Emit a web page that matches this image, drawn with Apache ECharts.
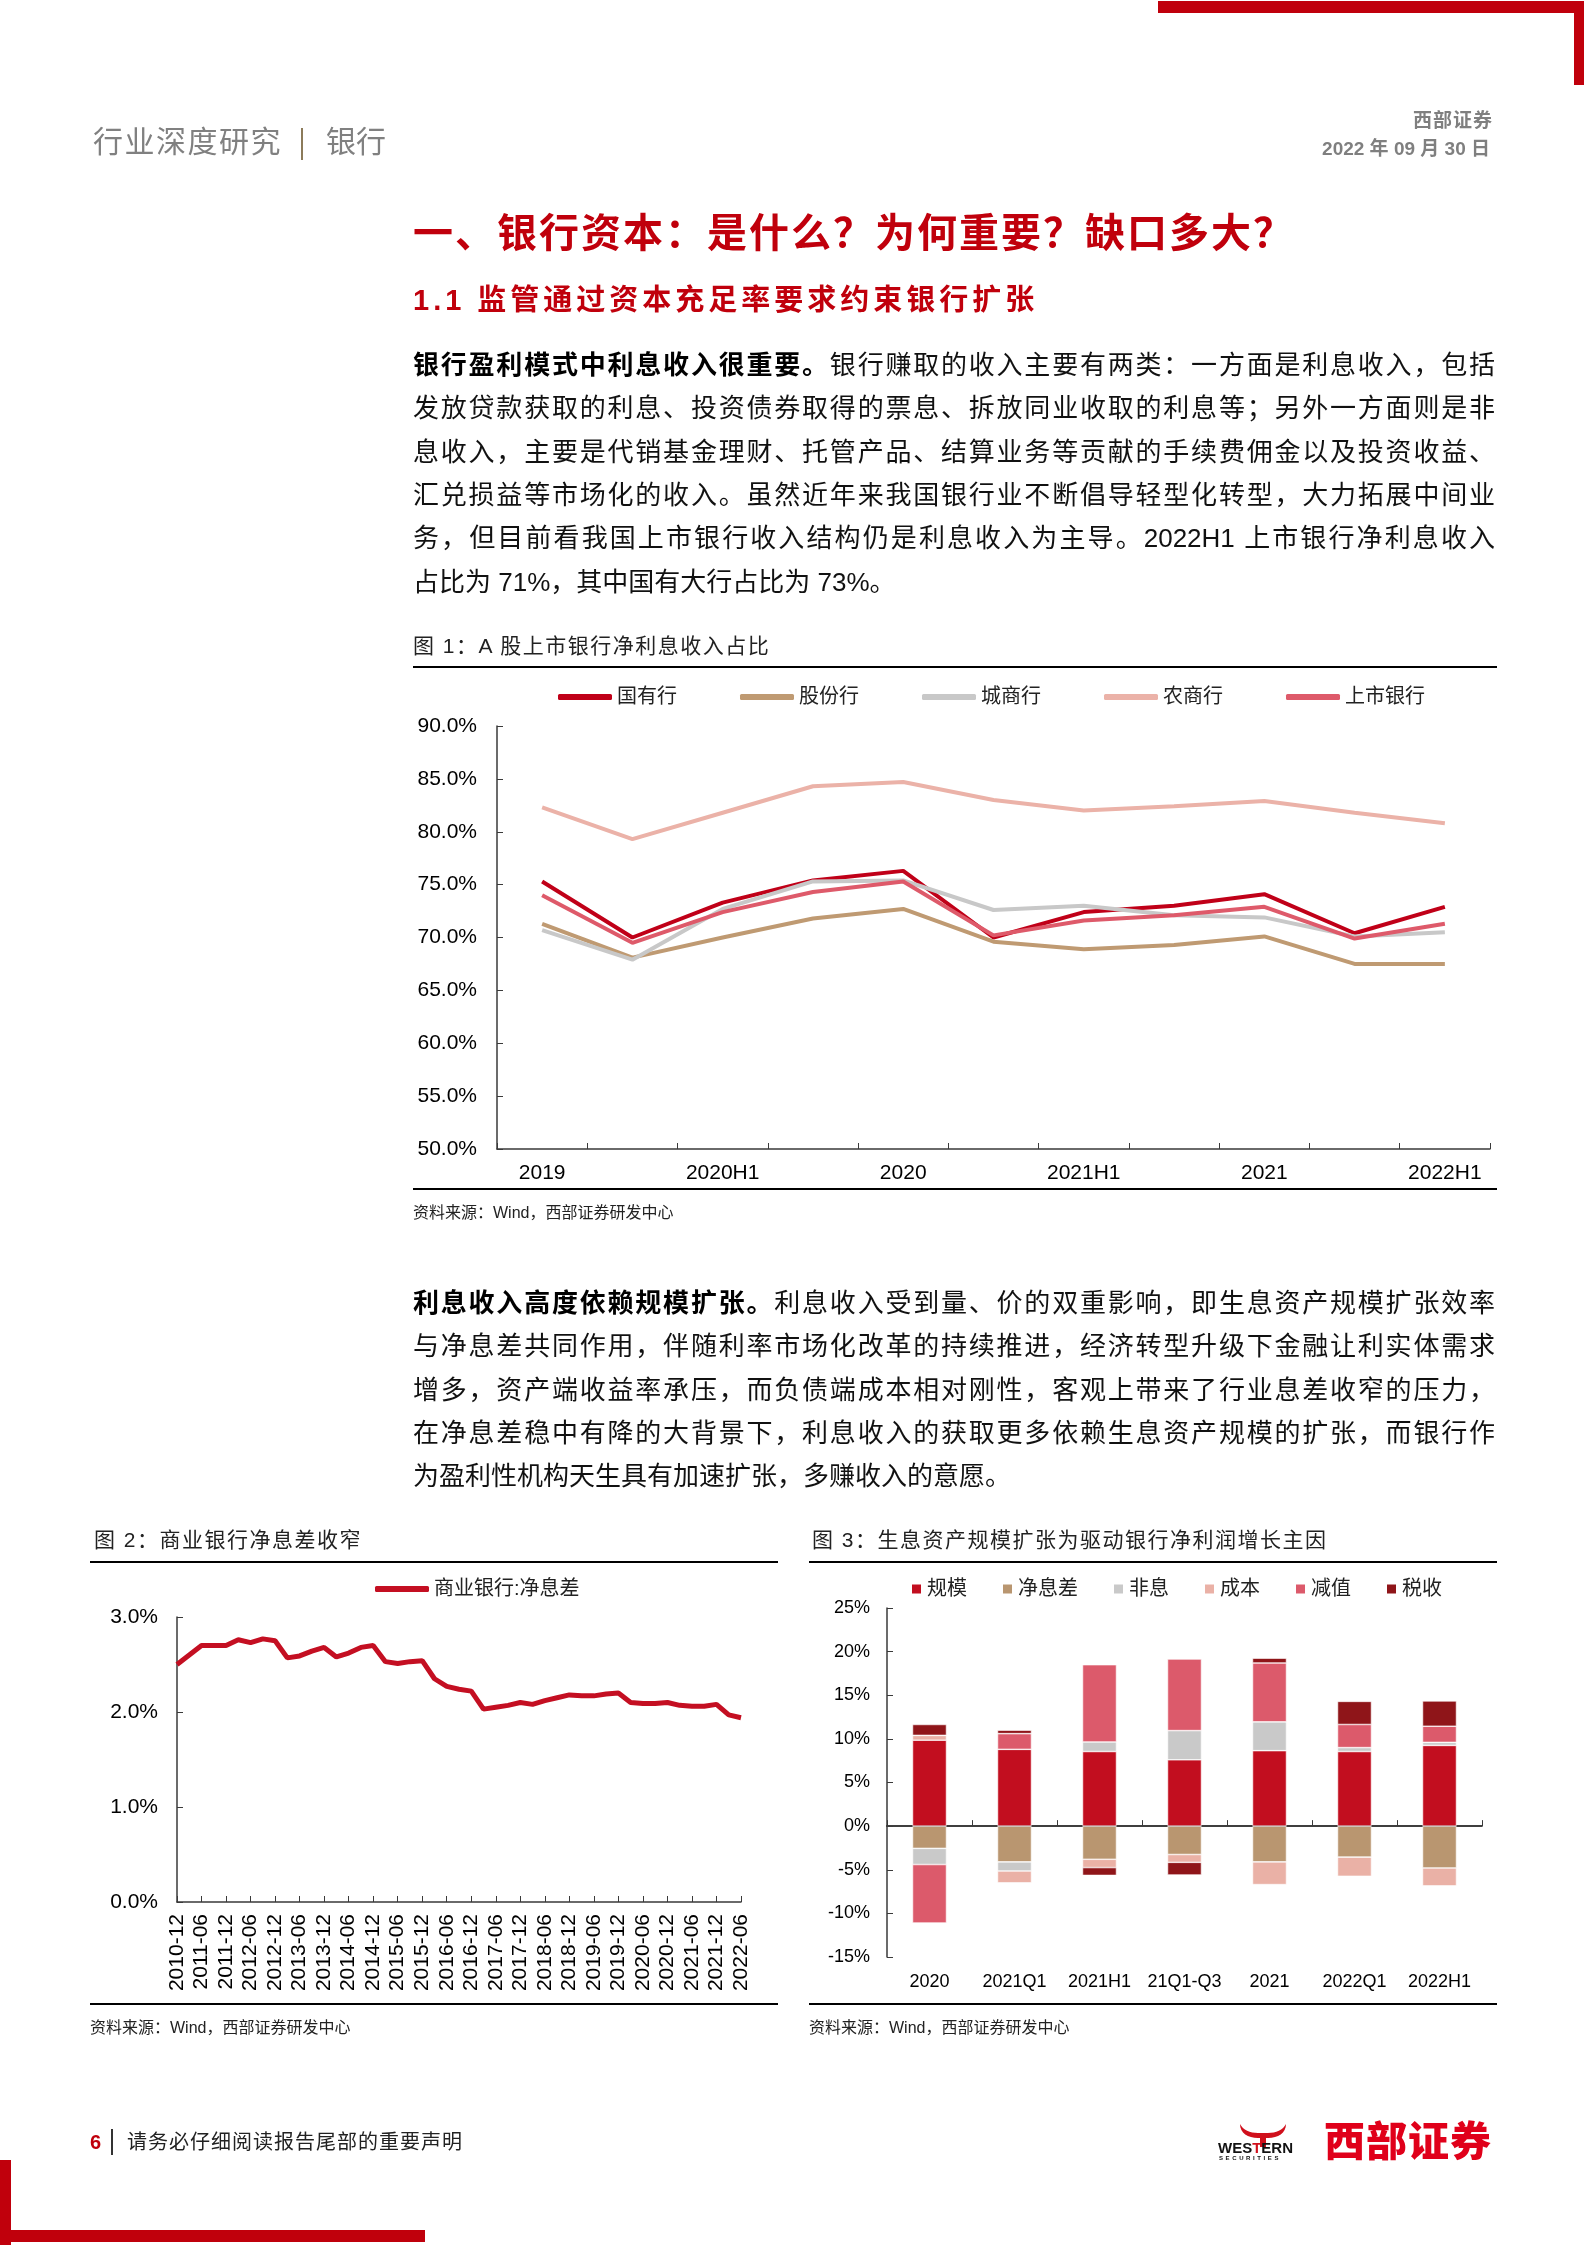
<!DOCTYPE html>
<html lang="zh-CN"><head><meta charset="utf-8">
<script src="https://cdn.jsdelivr.net/npm/echarts@6/dist/echarts.min.js"></script>
<style>
html,body{margin:0;padding:0;background:#fff;}
#page{position:relative;width:1587px;height:2245px;overflow:hidden;background:#fff;font-family:'Liberation Sans','Noto Sans CJK SC',sans-serif;}
#chart{position:absolute;left:0;top:0;width:1587px;height:2245px;}
.t{position:absolute;white-space:nowrap;}
.ln{position:absolute;left:413px;width:1082px;height:44px;line-height:44px;font-size:26px;color:#111;text-align:justify;text-align-last:justify;overflow:visible;}
.ln.last{text-align:left;text-align-last:left;}
.ln b{font-weight:bold;color:#000;}
.rule{position:absolute;height:2px;background:#000;}
.ftitle{position:absolute;font-size:21px;letter-spacing:1.5px;color:#222;white-space:nowrap;line-height:26px;}
.src{position:absolute;font-size:16px;color:#222;white-space:nowrap;line-height:20px;}
.red{background:#C0000C;position:absolute;}
</style></head>
<body><div id="page">
<div id="chart"></div>

<!-- decorations -->
<div class="red" style="left:1158px;top:1px;width:426px;height:12px;"></div>
<div class="red" style="left:1574px;top:1px;width:10px;height:84px;"></div>
<div class="red" style="left:0px;top:2160px;width:11px;height:85px;"></div>
<div class="red" style="left:0px;top:2230px;width:425px;height:12px;"></div>

<!-- header -->
<div class="t" style="left:93px;top:124px;font-size:30px;letter-spacing:1.5px;color:#808080;line-height:36px;">行业深度研究</div>
<div style="position:absolute;left:301px;top:128px;width:2px;height:32px;background:#8c7b5a;"></div>
<div class="t" style="left:326px;top:124px;font-size:30px;letter-spacing:0px;color:#808080;line-height:36px;">银行</div>
<div class="t" style="right:94px;top:109px;font-size:19px;font-weight:bold;color:#7f7f7f;letter-spacing:1px;line-height:24px;">西部证券</div>
<div class="t" style="right:97px;top:137px;font-size:19px;font-weight:bold;color:#7f7f7f;line-height:24px;">2022 年 09 月 30 日</div>

<div class="t" style="left:413px;top:209px;font-size:40px;font-weight:bold;color:#C0000C;letter-spacing:2px;line-height:48px;">一、银行资本：是什么？为何重要？缺口多大？</div>
<div class="t" style="left:413px;top:282px;font-size:29px;font-weight:bold;color:#C0000C;letter-spacing:4px;line-height:36px;">1.1 监管通过资本充足率要求约束银行扩张</div>

<!-- paragraph 1 -->
<div class="ln" style="top:343px;"><b>银行盈利模式中利息收入很重要。</b>银行赚取的收入主要有两类：一方面是利息收入，包括</div>
<div class="ln" style="top:386px;">发放贷款获取的利息、投资债券取得的票息、拆放同业收取的利息等；另外一方面则是非</div>
<div class="ln" style="top:430px;">息收入，主要是代销基金理财、托管产品、结算业务等贡献的手续费佣金以及投资收益、</div>
<div class="ln" style="top:473px;">汇兑损益等市场化的收入。虽然近年来我国银行业不断倡导轻型化转型，大力拓展中间业</div>
<div class="ln" style="top:516px;">务，但目前看我国上市银行收入结构仍是利息收入为主导。2022H1 上市银行净利息收入</div>
<div class="ln last" style="top:560px;">占比为 71%，其中国有大行占比为 73%。</div>

<!-- figure 1 frame -->
<div class="ftitle" style="left:413px;top:633px;">图 1：A 股上市银行净利息收入占比</div>
<div class="rule" style="left:413px;top:666px;width:1084px;"></div>
<div class="rule" style="left:413px;top:1188px;width:1084px;"></div>
<div class="src" style="left:413px;top:1203px;">资料来源：Wind，西部证券研发中心</div>

<!-- paragraph 2 -->
<div class="ln" style="top:1281px;"><b>利息收入高度依赖规模扩张。</b>利息收入受到量、价的双重影响，即生息资产规模扩张效率</div>
<div class="ln" style="top:1324px;">与净息差共同作用，伴随利率市场化改革的持续推进，经济转型升级下金融让利实体需求</div>
<div class="ln" style="top:1368px;">增多，资产端收益率承压，而负债端成本相对刚性，客观上带来了行业息差收窄的压力，</div>
<div class="ln" style="top:1411px;">在净息差稳中有降的大背景下，利息收入的获取更多依赖生息资产规模的扩张，而银行作</div>
<div class="ln last" style="top:1454px;">为盈利性机构天生具有加速扩张，多赚收入的意愿。</div>

<!-- figure 2 / 3 frames -->
<div class="ftitle" style="left:94px;top:1527px;">图 2：商业银行净息差收窄</div>
<div class="rule" style="left:90px;top:1561px;width:688px;"></div>
<div class="rule" style="left:90px;top:2003px;width:688px;"></div>
<div class="src" style="left:90px;top:2018px;">资料来源：Wind，西部证券研发中心</div>

<div class="ftitle" style="left:812px;top:1527px;">图 3：生息资产规模扩张为驱动银行净利润增长主因</div>
<div class="rule" style="left:809px;top:1561px;width:688px;"></div>
<div class="rule" style="left:809px;top:2003px;width:688px;"></div>
<div class="src" style="left:809px;top:2018px;">资料来源：Wind，西部证券研发中心</div>

<!-- footer -->
<div class="t" style="left:90px;top:2130px;font-size:20px;font-weight:bold;color:#C0000C;line-height:24px;">6</div>
<div style="position:absolute;left:111px;top:2129px;width:2px;height:26px;background:#333;"></div>
<div class="t" style="left:127px;top:2130px;font-size:20px;letter-spacing:1px;color:#222;line-height:24px;">请务必仔细阅读报告尾部的重要声明</div>
<svg style="position:absolute;left:1238px;top:2123px;" width="50" height="24" viewBox="0 0 50 24">
  <path d="M2 1 C2 10 10 15 20 15 L30 15 C40 15 48 10 48 1 C45 7 38 10 30 10 L20 10 C12 10 5 7 2 1 Z" fill="#D0101C"/>
  <rect x="22" y="13" width="6" height="11" fill="#D0101C"/>
</svg>
<div class="t" style="left:1218px;top:2139px;font-size:15px;font-weight:bold;color:#111;line-height:18px;letter-spacing:0px;">WES<span style="color:#D0101C">T</span>ERN</div>
<div class="t" style="left:1219px;top:2154px;font-size:6px;font-weight:bold;color:#111;line-height:8px;letter-spacing:2.6px;">SECURITIES</div>
<div class="t" style="left:1324px;top:2117px;font-size:41px;font-weight:900;color:#E0001A;line-height:50px;letter-spacing:1px;">西部证券</div>
</div>

<script>
// ---------- Figure 1 data ----------
const fig1Categories = ['2019','2020Q1','2020H1','2020Q3','2020','2021Q1','2021H1','2021Q3','2021','2022Q1','2022H1'];
const stateOwned = [75.3, 70.0, 73.3, 75.4, 76.3, 70.0, 72.4, 73.0, 74.1, 70.4, 72.9];
const jointStock = [71.3, 68.1, 70.0, 71.8, 72.7, 69.6, 68.9, 69.3, 70.1, 67.5, 67.5];
const cityComm   = [70.7, 67.9, 72.7, 75.3, 75.4, 72.6, 73.0, 72.1, 71.9, 70.1, 70.5];
const ruralComm  = [82.3, 79.3, 81.8, 84.3, 84.7, 83.0, 82.0, 82.4, 82.9, 81.8, 80.8];
const listedBank = [74.0, 69.5, 72.4, 74.3, 75.3, 70.2, 71.6, 72.1, 72.9, 69.9, 71.3];
const fig1Names  = ['国有行','股份行','城商行','农商行','上市银行'];

// ---------- Figure 2 data ----------
const nimCategories = ['2010-12',
 '2011-03','2011-06','2011-09','2011-12','2012-03','2012-06','2012-09','2012-12',
 '2013-03','2013-06','2013-09','2013-12','2014-03','2014-06','2014-09','2014-12',
 '2015-03','2015-06','2015-09','2015-12','2016-03','2016-06','2016-09','2016-12',
 '2017-03','2017-06','2017-09','2017-12','2018-03','2018-06','2018-09','2018-12',
 '2019-03','2019-06','2019-09','2019-12','2020-03','2020-06','2020-09','2020-12',
 '2021-03','2021-06','2021-09','2021-12','2022-03','2022-06'];
const nimValues = [2.50,
 2.60, 2.70, 2.70, 2.70, 2.76, 2.73, 2.77, 2.75,
 2.57, 2.59, 2.64, 2.68, 2.58, 2.62, 2.68, 2.70,
 2.53, 2.51, 2.53, 2.54, 2.35, 2.27, 2.24, 2.22,
 2.03, 2.05, 2.07, 2.10, 2.08, 2.12, 2.15, 2.18,
 2.17, 2.17, 2.19, 2.20, 2.10, 2.09, 2.09, 2.10,
 2.07, 2.06, 2.06, 2.08, 1.97, 1.94];

// ---------- Figure 3 data ----------
const fig3Categories = ['2020','2021Q1','2021H1','21Q1-Q3','2021','2022Q1','2022H1'];
const scaleVals   = [9.85, 8.8, 8.55, 7.6, 8.65, 8.55, 9.25];
const nimVals     = [-2.55, -4.1, -3.8, -3.25, -4.1, -3.55, -4.8];
const nonIntVals  = [-1.85, -1.05, 1.1, 3.35, 3.3, 0.45, 0.35];
const costVals    = [0.55, -1.35, -0.95, -0.9, -2.6, -2.2, -2.05];
const impairVals  = [-6.7, 1.8, 8.85, 8.2, 6.75, 2.65, 1.85];
const taxVals     = [1.25, 0.4, -0.9, -1.45, 0.55, 2.65, 2.9];
const fig3Names   = ['规模','净息差','非息','成本','减值','税收'];

const FONT = "'Liberation Sans', Arial, 'Noto Sans CJK SC', sans-serif";
const fig1Colors = ['#C00018','#BF9A72','#C8C8C8','#EBB2A8','#DE5A6A'];
const fig3Colors = ['#C20E1F','#B99670','#C9C9C9','#EAB1A6','#DC5A6B','#8F1519'];
const axisColor = '#3a3a3a';

const chart = echarts.init(document.getElementById('chart'), null, {renderer:'canvas', width:1587, height:2245});

const fig1Series = [stateOwned, jointStock, cityComm, ruralComm, listedBank].map((d, i) => ({
  name: fig1Names[i], type: 'line', data: d, xAxisIndex: 0, yAxisIndex: 0,
  symbol: 'none', lineStyle: {width: 4, color: fig1Colors[i]}, itemStyle: {color: fig1Colors[i]},
  z: 2 + i
}));

const fig3Series = [scaleVals, nimVals, nonIntVals, costVals, impairVals, taxVals].map((d, i) => ({
  name: fig3Names[i], type: 'bar', stack: 'f3', data: d, xAxisIndex: 2, yAxisIndex: 2,
  barWidth: 34, itemStyle: {color: fig3Colors[i], borderColor: '#fff', borderWidth: 0.6}
}));

const option = {
  animation: false,
  backgroundColor: 'transparent',
  textStyle: {fontFamily: FONT},
  grid: [
    {left: 497, top: 726, width: 993, height: 423, containLabel: false},
    {left: 177, top: 1617, width: 564, height: 285, containLabel: false},
    {left: 887, top: 1608, width: 595, height: 349, containLabel: false}
  ],
  legend: [
    {data: fig1Names, left: 553, top: 682, icon: 'roundRect', itemWidth: 54, itemHeight: 6, itemGap: 63,
     textStyle: {fontSize: 20, color: '#222', fontFamily: FONT}},
    {data: ['商业银行:净息差'], left: 370, top: 1574, icon: 'roundRect', itemWidth: 54, itemHeight: 6,
     textStyle: {fontSize: 20, color: '#222', fontFamily: FONT}},
    {data: fig3Names, left: 905, top: 1574, icon: 'rect', itemWidth: 11, itemHeight: 11, itemGap: 34,
     textStyle: {fontSize: 20, color: '#222', fontFamily: FONT}}
  ],
  xAxis: [
    {type: 'category', gridIndex: 0, data: fig1Categories, boundaryGap: true,
     axisLine: {show: true, lineStyle: {color: axisColor, width: 1.5}},
     axisTick: {show: true, inside: true, length: 6, interval: 0, lineStyle: {color: axisColor}},
     axisLabel: {interval: 1, fontSize: 21, color: '#000', margin: 14, fontFamily: FONT},
     splitLine: {show: false}},
    {type: 'category', gridIndex: 1, data: nimCategories, boundaryGap: false,
     axisLine: {show: true, lineStyle: {color: axisColor, width: 1.5}},
     axisTick: {show: true, inside: true, length: 6, interval: 1, lineStyle: {color: axisColor}},
     axisLabel: {interval: 1, rotate: 90, fontSize: 21, color: '#000', margin: 12, fontFamily: FONT},
     splitLine: {show: false}},
    {type: 'category', gridIndex: 2, data: fig3Categories, boundaryGap: true,
     axisLine: {show: true, onZero: true, lineStyle: {color: '#000', width: 1.5}},
     axisTick: {show: true, inside: true, length: 6, interval: 0, lineStyle: {color: axisColor}},
     axisLabel: {interval: 0, fontSize: 18, color: '#000', margin: 16, fontFamily: FONT},
     splitLine: {show: false}}
  ],
  yAxis: [
    {type: 'value', gridIndex: 0, min: 50, max: 90, interval: 5,
     axisLine: {show: true, lineStyle: {color: axisColor, width: 1.5}},
     axisTick: {show: true, inside: true, length: 6, lineStyle: {color: axisColor}},
     axisLabel: {fontSize: 21, color: '#000', margin: 20, formatter: v => v.toFixed(1) + '%', fontFamily: FONT},
     splitLine: {show: false}},
    {type: 'value', gridIndex: 1, min: 0, max: 3, interval: 1,
     axisLine: {show: true, lineStyle: {color: axisColor, width: 1.5}},
     axisTick: {show: true, inside: true, length: 6, lineStyle: {color: axisColor}},
     axisLabel: {fontSize: 21, color: '#000', margin: 19, formatter: v => v.toFixed(1) + '%', fontFamily: FONT},
     splitLine: {show: false}},
    {type: 'value', gridIndex: 2, min: -15, max: 25, interval: 5,
     axisLine: {show: true, lineStyle: {color: axisColor, width: 1.5}},
     axisTick: {show: true, inside: true, length: 6, lineStyle: {color: axisColor}},
     axisLabel: {fontSize: 18, color: '#000', margin: 17, formatter: '{value}%', fontFamily: FONT},
     splitLine: {show: false}}
  ],
  series: [
    ...fig1Series,
    {name: '商业银行:净息差', type: 'line', data: nimValues, xAxisIndex: 1, yAxisIndex: 1,
     symbol: 'none', lineStyle: {width: 5, color: '#C40F22'}, itemStyle: {color: '#C40F22'}},
    ...fig3Series
  ]
};
chart.setOption(option);
</script>
</body></html>
